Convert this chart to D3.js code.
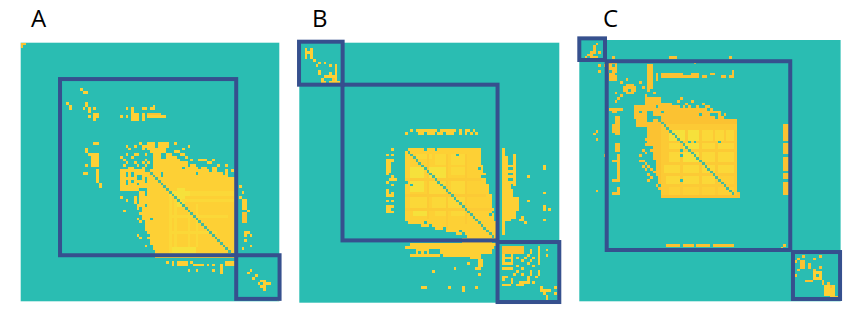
<!DOCTYPE html>
<html><head><meta charset="utf-8">
<script src="https://cdn.jsdelivr.net/npm/d3@7/dist/d3.min.js"></script>
<style>html,body{margin:0;background:#fff}svg{display:block}</style></head>
<body><svg id="c" width="865" height="326"></svg>
<script>
const gridSize = 96;
const panelNames = ["A","B","C"];
const levelStops = [0,0.5,1,2,2.5,3];
const levelColors = ["#2abdb2","#45b99c","#fbc233","#fdd035","#fbd837","#f6e13b"];
const frameColor = "#36508e";
// [firstRow,lastRow,firstCol,lastCol,level]
const blocksA = [
[0,0,0,1,1],[1,1,0,0,1],[95,95,95,95,2],
[37,38,47,54,2],[39,39,47,53,2],[40,40,48,53,2],[41,41,49,51,2],[41,41,54,55,2],[42,42,49,57,2],[43,43,49,58,2],[44,44,49,61,2],[45,45,49,64,2],[46,46,49,68,2],
[47,47,47,72,2],[48,48,47,74,2],[49,49,47,76,2],[50,50,47,78,2],[51,54,47,79,2],[47,53,37,46,2],
[54,54,37,43,2],[55,60,44,79,2],[61,64,45,79,2],[65,67,46,79,2],[68,70,47,79,2],[71,73,48,79,2],[74,75,49,79,2],[76,79,50,79,2],
[50,79,52,79,2],
[48,49,39,39,0],[48,49,41,41,0],[49,50,43,44,0],[47,47,46,46,0],[50,51,46,46,0],[51,52,39,39,0],[51,51,41,41,0],[52,52,43,43,0],[55,56,46,46,0],[46,46,60,60,0],[48,48,65,65,0],[60,60,46,46,0],[65,65,48,48,0],[37,38,50,50,0],[48,49,52,52,0],[42,42,52,53,0],[45,45,62,62,0],[46,46,66,66,0],[47,47,70,70,0],
[55,56,55,62,3],[54,60,58,60,3],[57,78,55,55,2.5],[57,78,57,57,2.5],[62,78,62,62,2.5],[58,58,60,78,2.5],[64,64,55,76,2.5],[70,70,55,72,2.5],[76,77,56,64,3],[60,75,65,65,2.5],[55,56,63,78,2.5],
[26,28,41,43,2],[27,27,47,53,2],[26,26,47,51,1],[26,28,45,45,2],[41,43,26,28,2],[44,45,26,28,2],[47,51,28,28,2],[52,53,29,29,2],[81,82,58,61,2],[82,82,64,67,2],[81,82,76,79,2],[58,61,82,83,2],[63,66,82,83,1]
];
// [row,col]
const dotsA = [[17,22],[18,23],[18,24],[22,17],[23,18],[24,18],[22,24],[24,23],[23,24],[24,25],[25,25],[24,27],[26,27],[27,25],[27,27],[26,28],[27,28],[28,27],
[27,37],[27,39],[24,39],[24,41],[25,41],[24,45],[24,46],[24,48],[24,49],[23,49],
[37,27],[37,28],[39,24],[40,24],[41,25],[45,24],[48,23],[48,24],
[38,39],[42,37],[38,42],[37,44],[38,45],[39,40],[39,45],[41,39],[41,42],[41,43],[42,41],[43,38],[44,39],[45,38],[44,42],[44,45],[45,43],[46,40],[45,46],[46,41],[43,46],[41,46],[44,47],[46,45],[38,46],
[37,57],[39,60],[38,62],[40,57],[40,58],[41,59],[41,60],[42,61],[43,63],[43,66],[43,67],[43,68],[44,69],[44,70],[43,71],[45,73],[45,76],[47,76],[46,72],[48,76],[46,71],[47,78],
[57,37],[58,39],[57,42],[58,42],[59,42],[60,43],[61,43],[62,38],[63,44],[65,43],[65,45],[66,44],[68,46],[69,46],[70,47],[71,43],[72,47],[75,46],[74,48],[72,44],[76,49],
[81,54],[81,56],[82,56],[81,63],[84,62],[84,65],[82,69],[82,71],[84,71],[84,74],[85,74],[82,74],[83,74],
[53,81],[55,82],[57,81],[62,84],[70,84],[70,83],[71,83],[71,85],[73,83],[76,82],[75,85],
[84,85],[85,84],[86,87],[87,86],[88,89],[88,90],[89,88],[89,90],[89,91],[90,89],[90,90],[89,92],[91,90]];
const framesA = [[14.6,13.5,80,78.9],[80,78.9,96.1,95.1]];
const diagA = [47,78];

const blocksB = [
[39,39,40,66,2],[40,44,39,66,2],[45,47,39,67,2],[48,51,39,68,2],[52,55,39,69,2],[56,60,39,70,2],[61,64,39,71,2],[65,65,39,71,2],[66,66,40,72,2],[67,67,45,72,2],[68,68,50,72,2],[69,69,54,72,2],[70,70,58,72,2],[71,71,62,72,2],[72,72,67,72,2],
[41,42,43,48,2.5],[41,44,50,53,2.5],[41,44,56,60,2.5],[46,49,41,45,3],[46,49,48,53,3],[46,48,56,60,2.5],[50,50,39,66,1.6],[51,54,41,45,3],[51,55,48,53,2.5],[51,55,56,60,2.5],[56,56,39,68,1.6],[57,60,41,46,2.5],[57,60,49,53,2.5],[57,60,55,60,2.5],[61,61,39,70,1.6],[62,63,42,47,3],[62,63,50,53,2.5],[62,63,56,60,2.5],[41,64,47,47,1.6],[41,68,54,54,1.6],[41,66,61,61,1.6],
[39,39,50,50,0],[39,39,46,46,0],[41,41,58,58,0],[49,49,67,68,0],[46,46,66,66,0],[51,51,39,39,0],[52,52,41,41,0],[59,59,71,71,0],[63,63,70,70,0],[62,62,71,71,0],[66,66,46,46,0],[67,67,48,48,0],[69,69,59,59,0],[68,68,53,53,0],[70,70,60,60,0],
[75,75,39,71,2],[76,76,43,47,2],[76,77,52,70,2],[77,77,43,43,2],[77,77,45,45,2],[77,77,47,47,2],[78,78,41,51,2],[78,78,53,62,2],[78,79,63,66,2],[74,74,41,72,2],[72,73,60,70,1.5],
[80,80,66,67,2],[81,82,66,67,2],[83,83,65,66,2],[90,90,45,46,2],
[39,70,75,75,2],[42,52,76,76,2],[52,65,76,77,2],[54,61,78,78,2],[57,61,79,80,2],[45,45,77,78,2],[47,47,77,78,2],[49,49,77,78,2],[51,51,77,78,2],[41,52,79,79,2],[62,64,75,79,2],
[43,47,32,33,2],[50,50,33,35,2],[56,56,32,34,2],[60,62,32,33,2],
[32,32,43,50,2],[32,32,52,57,2],[33,33,44,45,2],[33,33,47,49,2],[33,33,51,52,2],[33,33,54,56,2],[32,32,61,62,2],
[2,4,2,4,2],[2,2,3,3,0],[4,4,3,3,0],[12,14,11,13,2],[13,13,12,12,1],[13,13,11,11,0],
[75,77,75,82,1],[78,81,75,78,2],[78,78,76,77,0],[80,80,76,77,0],[76,81,88,88,2],[89,89,75,77,2],[89,89,80,82,2],[88,88,82,84,2],[83,83,75,78,2],[86,87,75,75,2],[91,91,89,92,2]
];
const dotsB = [[6,5],[7,7],[8,6],[7,9],[8,11],[8,13],[9,13],[10,7],[10,13],[11,13],[11,11],[12,9],[11,7],[13,8],[14,8],[14,9],[12,10],[14,14],[5,4],[5,2],
[33,39],[32,41],[33,59],[32,59],[32,64],[33,65],[33,63],[33,61],
[39,34],[41,32],[41,34],[43,34],[48,32],[49,34],[51,32],[52,34],[54,32],[55,34],[55,32],[58,32],[58,34],[60,34],[62,34],
[81,62],[83,57],[84,49],[90,55],[90,60],[91,60],[90,65],[85,66],
[45,90],[46,90],[49,84],[55,90],[58,84],[60,90],[61,90],[61,92],[65,90],[65,81],[65,82],[66,83],[64,82],
[79,80],[79,83],[82,80],[80,82],[83,82],[81,84],[78,84],[84,80],[85,82],[84,85],[85,85],[86,84],[79,86],[80,85],[82,86],[86,87],[85,88],[84,88],[87,84],[88,81],[87,78],[88,78],[76,85],[77,85],[75,88],[78,91],[90,89],[92,90],[93,91],[94,91],[90,94],[92,94],[76,91],[85,79],[86,76],[88,86]];
const framesB = [[15.95,15.5,73.2,73],[-0.1,-0.37,16,15.5],[73.2,73.6,96,95.75]];
const diagB = [40,71];

const blocksC = [
[27,27,30,47,1],[28,28,30,52,1],[29,29,27,57,1],[30,38,25,57,1],[39,43,27,57,1],[44,49,28,57,1],[50,57,30,57,1],[50,52,29,29,1],
[31,56,30,57,1.6],
[33,36,33,38,3],[33,36,40,43,3],[33,36,45,48,2.5],[33,36,50,52,2.5],[33,36,54,56,2.5],
[38,39,33,36,2.5],[38,39,38,43,3],[38,39,45,49,2.5],[38,39,51,56,2.5],[41,44,33,36,2.5],[41,44,38,43,3],[41,44,45,49,2.5],[41,44,51,56,2.5],
[46,48,31,36,2.5],[46,48,38,43,2.5],[46,48,45,49,2.5],[46,48,51,56,2.5],[50,52,32,36,2.5],[50,52,38,43,2.5],[50,52,45,49,2.5],[50,52,51,56,2],[54,56,33,36,2],[54,56,38,43,2],[54,56,45,49,2],[54,56,51,56,2],
[27,27,33,33,0],[27,27,44,44,0],[28,28,50,50,0],[37,37,40,40,0],[37,37,42,42,0],[37,37,51,51,0],[40,40,37,37,0],[42,42,37,37,0],[51,51,37,37,0],[44,44,27,27,0],
[8,11,10,13,1],[12,14,11,13,1],[9,9,12,12,0],[11,11,11,11,0],[12,12,13,13,0],
[17,18,16,20,1],[16,19,17,19,1],[18,18,18,18,0],
[24,28,20,24,1],[29,31,21,24,1],[26,26,22,22,0],[21,25,24,29,1],[23,27,27,33,1],[24,24,28,28,0],[26,26,30,30,0],[28,28,29,29,0],
[24,26,32,36,1],[25,26,37,46,1],[26,26,47,50,1],
[9,17,25,26,1],[12,14,28,28,1],[12,13,30,37,1],[13,13,38,41,1],[12,13,41,43,1],[13,13,45,46,1],[12,12,48,49,1],[13,13,52,53,1],[13,13,55,56,1],[11,13,56,56,1],
[25,25,11,15,1],[26,26,12,13,1],[28,34,13,14,1],[31,33,12,12,1],[38,40,13,14,1],[42,48,14,14,1],[44,44,12,13,1],[49,51,14,14,1],[51,51,12,13,1],[54,55,14,14,1],[56,56,12,14,1],
[31,36,75,76,1],[38,41,75,76,1],[43,47,75,76,1],[49,50,75,76,1],[52,56,75,76,1],
[75,75,32,36,1],[75,75,38,41,1],[75,75,43,47,1],[75,75,49,52,1],[75,75,53,56,1],
[85,87,86,88,2],[86,86,87,87,0],[90,93,90,93,2],[94,94,92,93,2],[81,83,81,82,1]
];
const dotsC = [[1,6],[2,5],[3,5],[4,4],[4,5],[4,7],[5,3],[5,4],[6,2],[6,6],[6,4],[6,5],
[6,12],[6,33],[6,34],[6,35],[8,42],[6,55],[9,7],[11,7],[9,9],[34,5],[33,6],[36,6],[42,9],[55,6],
[19,13],[20,15],[21,14],[22,13],[20,24],[17,23],[15,22],[16,26],[19,27],[18,25],[15,15],[14,17],
[23,33],[23,39],[22,41],[23,45],[24,38],[24,40],[24,43],[24,46],[24,47],[25,48],[26,49],[26,51],[27,51],[27,53],[22,36],[21,37],
[36,24],[37,25],[38,24],[40,23],[41,24],[44,23],[45,24],[46,25],[47,26],[48,27],[46,23],[47,24],[49,25],[50,26],[51,25],[53,28],[54,29],[42,22],[44,22],[40,26],
[57,57],[56,58],[57,58],[75,75],[76,74],
[79,82],[80,80],[79,88],[80,86],[81,79],[82,84],[83,88],[83,84],[84,86],[82,78],[85,78],[86,79],[87,78],[88,83],[88,84],[88,85],[89,89],[88,89],[84,80],[94,94],[90,92],[89,91]];
const framesC = [[10.07,7.8,77.5,77.15],[0,-0.6,9.44,7.35],[78.5,77.9,95.8,95.15]];
const diagC = [28,56];

// where each heatmap sits on the page
const placements = {A:[20.7,42.7,258.6,31,27],B:[299.3,42.7,260,312,27],C:[579.3,40,261.3,603,27]};
const data = {A:[blocksA,dotsA,framesA,diagA,2],B:[blocksB,dotsB,framesB,diagB,2],C:[blocksC,dotsC,framesC,diagC,1]};

const svg = d3.select("#c");
const defs = svg.append("defs");
defs.append("filter").attr("id","soft").attr("x","-5%").attr("y","-5%").attr("width","110%").attr("height","110%")
  .append("feGaussianBlur").attr("stdDeviation",0.55);
const colour = d3.scaleLinear().domain(levelStops).range(levelColors);

panelNames.forEach(name=>{
  const [x0,y0,size,tx,ty] = placements[name];
  const [blocks,dots,frames,diag,dotLevel] = data[name];
  const x = d3.scaleLinear().domain([0,gridSize]).range([x0,x0+size]);
  const y = d3.scaleLinear().domain([0,gridSize]).range([y0,y0+size]);
  const cw = x(1)-x(0);
  const cells = new Map();
  blocks.forEach(([r0,r1,c0,c1,l])=>{
    for(let r=r0;r<=r1;r++)for(let c=c0;c<=c1;c++)cells.set(r+"_"+c,{r,c,l});
  });
  dots.forEach(([r,c])=>cells.set(r+"_"+c,{r,c,l:dotLevel}));
  for(let i=diag[0];i<=diag[1];i++)cells.set(i+"_"+i,{r:i,c:i,l:0.5});
  const g = svg.append("g").attr("filter","url(#soft)");
  g.append("rect").attr("x",x(0)).attr("y",y(0)).attr("width",size).attr("height",size).attr("fill",colour(0));
  g.selectAll("rect.cell").data([...cells.values()]).join("rect")
    .attr("class","cell").attr("x",d=>x(d.c)).attr("y",d=>y(d.r))
    .attr("width",cw).attr("height",cw).attr("shape-rendering","crispEdges").attr("fill",d=>colour(d.l));
  svg.append("g").selectAll("rect").data(frames).join("rect")
    .attr("x",d=>x(d[0])).attr("y",d=>y(d[1]))
    .attr("width",d=>x(d[2])-x(d[0])).attr("height",d=>y(d[3])-y(d[1]))
    .attr("fill","none").attr("stroke",frameColor).attr("stroke-width",4);
  svg.append("text").attr("x",tx).attr("y",ty).text(name)
    .attr("font-family","'Open Sans','Liberation Sans',sans-serif").attr("font-size",24).attr("fill","#000");
});
</script></body></html>
